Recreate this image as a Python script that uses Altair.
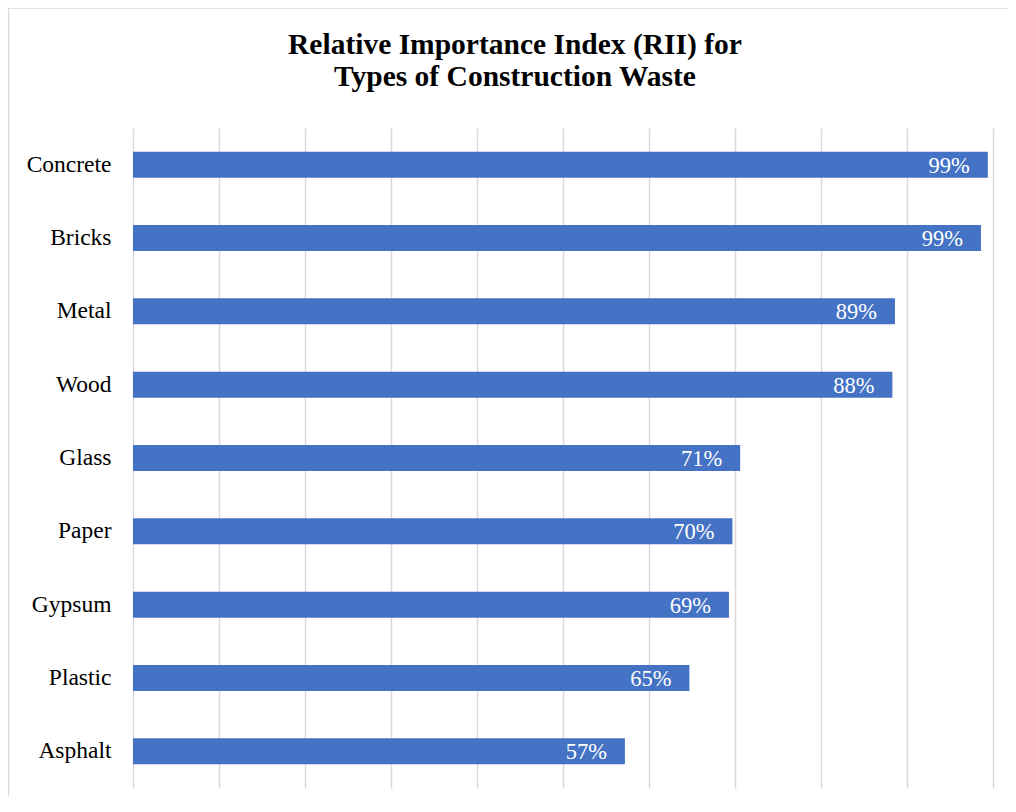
import altair as alt
import pandas as pd

categories = ["Concrete", "Bricks", "Metal", "Wood", "Glass", "Paper", "Gypsum", "Plastic", "Asphalt"]
rii_values = [0.994, 0.986, 0.886, 0.883, 0.706, 0.697, 0.693, 0.647, 0.572]
grid_values = [0.0, 0.1, 0.2, 0.3, 0.4, 0.5, 0.6, 0.7, 0.8, 0.9, 1.0]
title_lines = ["Relative Importance Index (RII) for", "Types of Construction Waste"]

df = pd.DataFrame({"Type": categories, "RII": rii_values})

SERIF = "Liberation Serif"

x_scale = alt.Scale(domain=[0, 1], nice=False, zero=True)
y_scale = alt.Scale(domain=categories, paddingInner=0.645, paddingOuter=0.3225)

base = alt.Chart(df)

bars = base.mark_bar(color="#4472C4").encode(
    x=alt.X("RII:Q", scale=x_scale,
            axis=alt.Axis(values=grid_values, labels=False, ticks=False, domain=False,
                          title=None, grid=True, gridColor="#d9d9d9", gridWidth=1.5)),
    y=alt.Y("Type:N", scale=y_scale, sort=categories,
            axis=alt.Axis(title=None, ticks=False, domain=False, labelFont=SERIF,
                          labelFontSize=23.5, labelColor="#000000", labelPadding=22,
                          grid=False)),
)

labels = base.mark_text(align="right", baseline="middle", dx=-18, dy=1, color="white",
                        font=SERIF, fontSize=22.5).encode(
    x=alt.X("RII:Q", scale=x_scale),
    y=alt.Y("Type:N", scale=y_scale, sort=categories),
    text=alt.Text("RII:Q", format=".0%"),
)

border = alt.Chart(pd.DataFrame({"b": [0]})).mark_rect(
    fill=None, stroke="#d9d9d9", strokeWidth=1.5
).encode(
    x=alt.value(-124.5),
    x2=alt.value(920),
    y=alt.value(-120),
    y2=alt.value(700),
)

title = alt.Chart(pd.DataFrame({"b": [0]})).mark_text(
    align="center", baseline="alphabetic", font=SERIF, fontSize=29.5,
    fontWeight="bold", color="#000000", lineHeight=32
).encode(
    x=alt.value(382),
    y=alt.value(-74),
    text=alt.value(title_lines),
)

chart = alt.layer(border, title, bars, labels).properties(
    width=860,
    height=660,
    autosize=alt.AutoSizeParams(type="none"),
    padding={"left": 125, "top": 120, "right": 15, "bottom": 8},
).configure_view(stroke=None)

chart.save("out.html", embed_options={"renderer": "svg", "actions": False})
